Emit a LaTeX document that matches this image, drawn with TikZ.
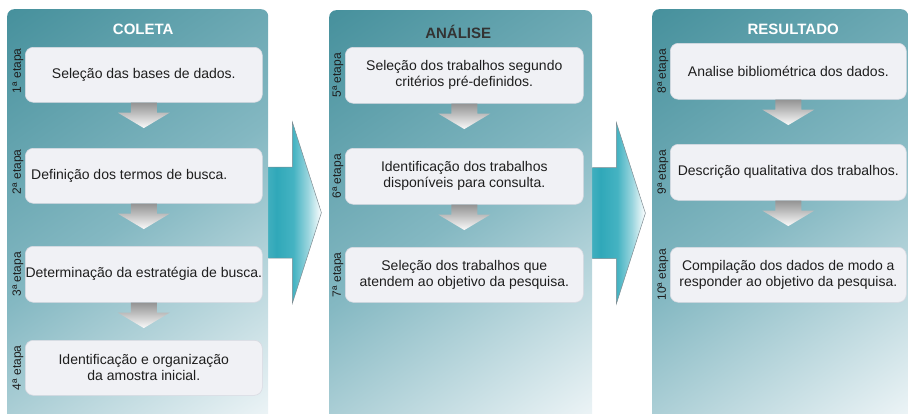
\documentclass[tikz,border=0pt]{standalone}
\usepackage{fontspec}
\setmainfont{Liberation Sans}
\usetikzlibrary{calc,backgrounds}
\definecolor{tealdark}{HTML}{448F9B}
\definecolor{tealmid}{HTML}{84B8C2}
\definecolor{teallight}{HTML}{F2F7F9}
\definecolor{boxfill}{HTML}{F0F1F5}
\definecolor{boxline}{HTML}{D9DAE2}
\definecolor{txt}{HTML}{1E1E1E}
\definecolor{arrline}{HTML}{7E8C92}
\definecolor{arrA}{HTML}{45B1C0}
\definecolor{arrB}{HTML}{30A8B9}
\definecolor{arrC}{HTML}{45B3C2}
\definecolor{arrD}{HTML}{9AD5DE}
\definecolor{greyA}{HTML}{939393}
\definecolor{greyB}{HTML}{CCCCCC}
\definecolor{greyC}{HTML}{FBFBFB}
\definecolor{titledark}{HTML}{333333}
\pgfdeclareverticalshading{panelshade}{100bp}{color(0bp)=(teallight); color(14bp)=(teallight); color(50bp)=(tealmid); color(86bp)=(tealdark); color(100bp)=(tealdark)}
\pgfdeclarehorizontalshading{bigarrshade}{100bp}{color(0bp)=(arrA); color(25bp)=(arrA); color(35bp)=(arrB); color(50bp)=(arrC); color(63bp)=(arrD); color(75bp)=(white); color(100bp)=(white)}
\tikzset{
  panel/.style={shading=panelshade, shading angle=35, rounded corners=7pt, draw=none,
    minimum height=412pt, anchor=north west, inner sep=0pt},
  stepbox/.style={draw=boxline, fill=boxfill, line width=0.6pt, rounded corners=8pt,
    inner xsep=0pt, inner ysep=0pt, align=center, anchor=north west,
    font=\fontsize{14}{16}\selectfont, text=txt},
  etapa/.style={rotate=90, font=\fontsize{12}{13}\selectfont, text=txt, inner sep=0pt},
  paneltitle/.style={font=\fontsize{15}{18}\selectfont\bfseries, inner sep=0pt},
  downarr/.pic={
    \path[shading=axis, top color=greyA, middle color=greyB, bottom color=greyC]
      (-13,0) -- (13,0) -- (13,10) -- (26,10) -- (0,25.5) -- (-26,10) -- (-13,10) -- cycle;
  },
  bigarr/.pic={
    \path[shading=bigarrshade] (-3,-45.5) -- (24,-45.5) -- (24,-90.5) -- (53,0) -- (24,90.5) -- (24,45.5) -- (-3,45.5) -- cycle;
    \draw[arrline, line width=0.5pt, line join=miter] (0,-45.5) -- (24,-45.5) -- (24,-90.5) -- (53,0) -- (24,90.5) -- (24,45.5) -- (0,45.5);
  }
}
\begin{document}
\begin{tikzpicture}[x=1pt, y=-1pt]
\useasboundingbox (0,0) rectangle (908,413);
% panels
\node[panel, minimum width=261pt] (p1) at (7,9) {};
\node[panel, minimum width=263pt] (p2) at (329,10) {};
\node[panel, minimum width=256pt] (p3) at (652,9) {};
% big arrows between panels
\begin{scope}[on background layer]
\pic at ([yshift=2.5pt]p1.east) {bigarr};
\pic at ([yshift=3pt]p2.east) {bigarr};
\end{scope}
% titles
\node[paneltitle, text=white] (h1) at ([xshift=5.5pt, yshift=-20.5pt]p1.north) {COLETA};
\node[paneltitle, text=titledark] (h2) at ([xshift=-2.5pt, yshift=-22pt]p2.north) {ANÁLISE};
\node[paneltitle, text=white] (h3) at ([xshift=13pt, yshift=-20.5pt]p3.north) {RESULTADO};
% COLETA boxes
\node[stepbox, minimum width=237pt, minimum height=55pt] (c1) at (25,47) {Seleção das bases de dados.};
\node[stepbox, minimum width=237pt, minimum height=55pt] (c2) at (25,148) {Definição dos termos de busca.\hspace*{29pt}};
\node[stepbox, minimum width=237pt, minimum height=56pt] (c3) at (25,246) {Determinação da estratégia de busca.};
\node[stepbox, minimum width=237pt, minimum height=55pt] (c4) at (25,340) {Identificação e organização\\da amostra inicial.};
% ANALISE boxes
\node[stepbox, minimum width=238pt, minimum height=56pt] (a1) at (345,47) {Seleção dos trabalhos segundo\\critérios pré-definidos.};
\node[stepbox, minimum width=238pt, minimum height=56pt] (a2) at (345,148) {Identificação dos trabalhos\\disponíveis para consulta.};
\node[stepbox, minimum width=238pt, minimum height=55pt] (a3) at (345,247) {Seleção dos trabalhos que\\atendem ao objetivo da pesquisa.};
% RESULTADO boxes
\node[stepbox, minimum width=236pt, minimum height=56pt] (r1) at (670,43) {Analise bibliométrica dos dados.};
\node[stepbox, minimum width=236pt, minimum height=56pt] (r2) at (670,144) {Descrição qualitativa dos trabalhos.};
\node[stepbox, minimum width=236pt, minimum height=55pt] (r3) at (670,247) {Compilação dos dados de modo a\\responder ao objetivo da pesquisa.};
% small arrows
\pic at (c1.south) {downarr};
\pic at (c2.south) {downarr};
\pic at (c3.south) {downarr};
\pic at (a1.south) {downarr};
\pic at (a2.south) {downarr};
\pic at (r1.south) {downarr};
\pic at (r2.south) {downarr};
% etapa labels
\node[etapa] (e1) at ([xshift=-7pt, yshift=4pt]c1.west) {1ª etapa};
\node[etapa] (e2) at ([xshift=-7pt, yshift=4pt]c2.west) {2ª etapa};
\node[etapa] (e3) at ([xshift=-7pt]c3.west) {3ª etapa};
\node[etapa] (e4) at ([xshift=-7pt]c4.west) {4ª etapa};
\node[etapa] (e5) at ([xshift=-7pt]a1.west) {5ª etapa};
\node[etapa] (e6) at ([xshift=-7pt]a2.west) {6ª etapa};
\node[etapa] (e7) at ([xshift=-7pt]a3.west) {7ª etapa};
\node[etapa] (e8) at ([xshift=-7pt]r1.west) {8ª etapa};
\node[etapa] (e9) at ([xshift=-7pt]r2.west) {9ª etapa};
\node[etapa] (e10) at ([xshift=-7pt]r3.west) {10ª etapa};
\end{tikzpicture}
\end{document}
